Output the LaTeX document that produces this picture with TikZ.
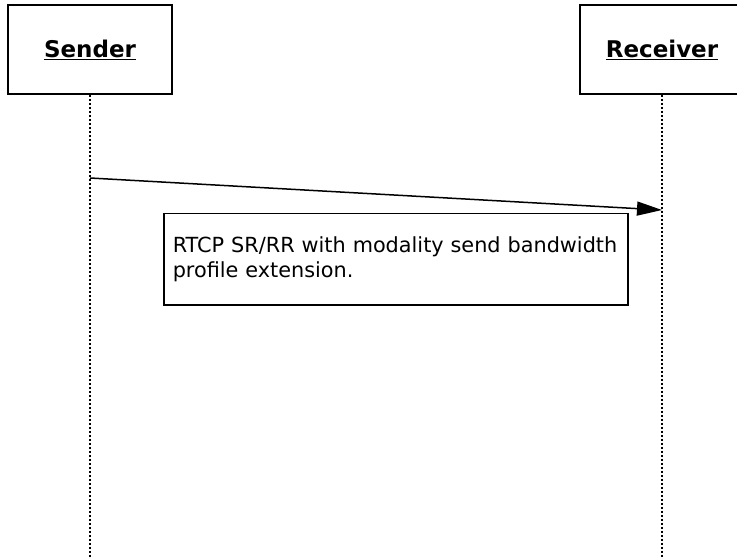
\documentclass[tikz,border=0pt]{standalone}
\usepackage{fontspec}
\setmainfont{DejaVu Sans}
\usepackage{tikz}
\usetikzlibrary{arrows.meta}

\begin{document}
\begin{tikzpicture}[x=1pt,y=-1pt]

	\useasboundingbox (0,0) rectangle (737,559);

	\node[shape=rectangle,draw=black,line width=1.4pt,minimum width=164pt,minimum height=89pt] (sender) at (90, 49.5)   {\fontsize{23}{27}\selectfont\bfseries\underline{Sender}};
	\node[shape=rectangle,draw=black,line width=1.4pt,minimum width=164pt,minimum height=89pt] (receiver) at (662, 49.5)   {\fontsize{23}{27}\selectfont\bfseries\underline{Receiver}};

	\coordinate (sendbot) at (90, 559);
	\coordinate (recvbot) at (662, 559);
	\coordinate (msgstart) at (90, 178);
	\coordinate (msgend) at (662, 210);

	\node[shape=rectangle,draw=black,line width=1.5pt,anchor=north west,align=left,text width=446pt,inner xsep=9pt,minimum height=91pt,font={\fontsize{20.8}{25}\selectfont\spaceskip=0.22em\relax\hyphenpenalty=10000}] (note) at (163, 213)   {RTCP SR/RR with modality send bandwidth\\profile extension.};

	%lifelines
	\path[line width=2.2pt, dash pattern=on 2.5pt off 1.5pt] (sender) edge (sendbot);
	\path[line width=2.2pt, dash pattern=on 2.5pt off 1.5pt] (receiver) edge (recvbot);

	\path[-{Triangle[length=25pt,width=14pt]}, line width=1.5pt] (msgstart) edge (msgend);

\end{tikzpicture}
\end{document}
